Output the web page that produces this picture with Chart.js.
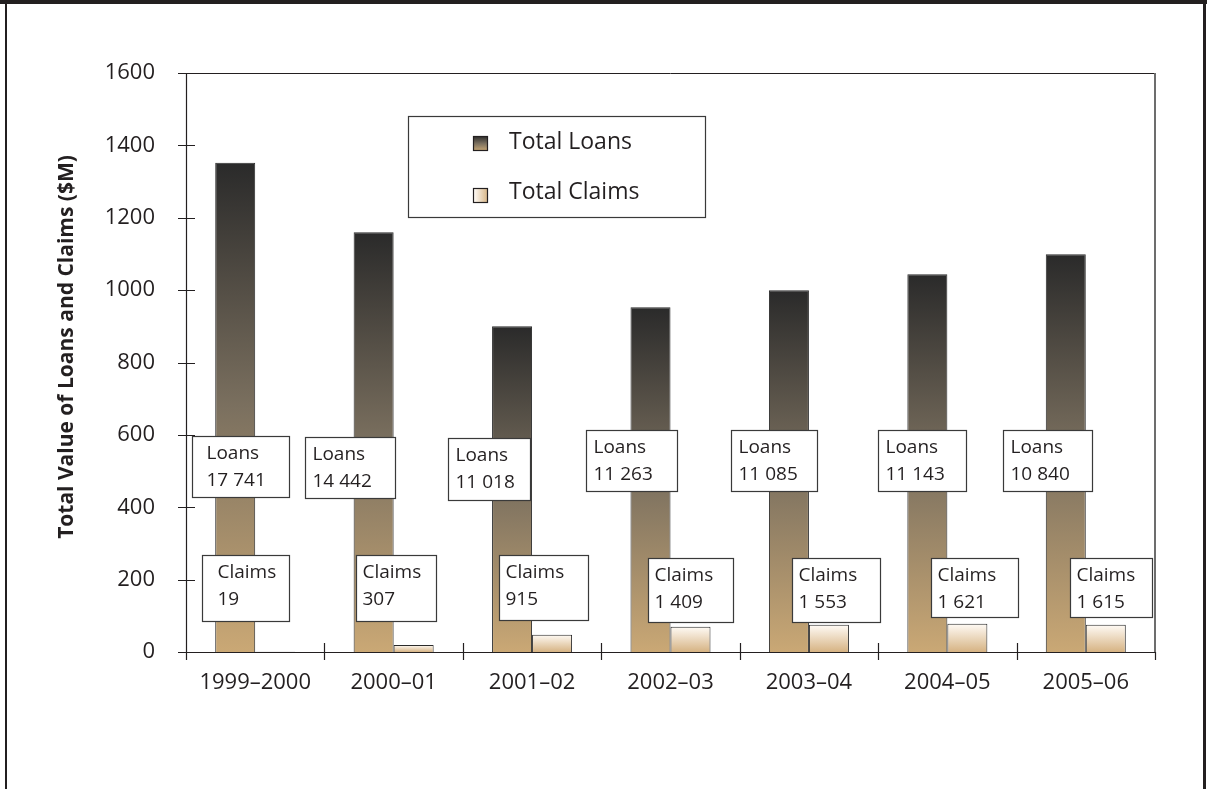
<!DOCTYPE html>
<html>
<head>
<meta charset="utf-8">
<title>Total Value of Loans and Claims</title>
<script src="https://cdn.jsdelivr.net/npm/chart.js@4.4.1/dist/chart.umd.min.js"></script>
<style>
  html, body { margin: 0; padding: 0; background: #fff; }
  #wrap { width: 1207px; height: 789px; position: relative; }
</style>
</head>
<body>
<div id="wrap"><canvas id="loansChart" width="1207" height="789"></canvas></div>
<script>
// Financial years
var categories = ["1999\u20132000", "2000\u201301", "2001\u201302", "2002\u201303", "2003\u201304", "2004\u201305", "2005\u201306"];

// Total value in $M
var totalLoans = [1352, 1160, 900, 953, 1000, 1044, 1099];
var totalClaims = [0.4, 19, 48, 70, 75, 78, 75];

// Number of loans and claims, shown in the call-out boxes
var loanCounts = ["17 741", "14 442", "11 018", "11 263", "11 085", "11 143", "10 840"];
var claimCounts = ["19", "307", "915", "1 409", "1 553", "1 621", "1 615"];

var yTicks = [0, 200, 400, 600, 800, 1000, 1200, 1400, 1600];

// call-out box placement: offset from category centre, top, width, height, text indent
var loanBoxes = [
    [-63.5, 436, 97, 61, 14], [-89, 437, 90, 61, 7], [-84.5, 438, 82, 62, 7],
    [-84.5, 430, 91, 61, 7], [-78, 430, 86, 61, 7], [-69.5, 430, 88, 61, 7], [-83, 430, 89, 61, 7]
];
var claimBoxes = [
    [-53.5, 555, 87, 66, 15], [-38, 555, 80, 66, 6], [-33.5, 555, 89, 65, 6],
    [-22.5, 558, 85, 64, 6], [-17, 558, 88, 64, 6], [-16.5, 558, 87, 59, 6], [-16, 558, 82, 59, 6]
];

var ink = "#231f20";
var fontFamily = "'Open Sans', 'Noto Sans', sans-serif";

function loansFill(g) {
    g.addColorStop(0, "#2a2a2a");
    g.addColorStop(0.5, "#7b705f");
    g.addColorStop(1, "#caa875");
    return g;
}
function claimsFill(g) {
    g.addColorStop(0, "#fffbf6");
    g.addColorStop(1, "#d6b383");
    return g;
}

// vertical gradient fitted to each bar
function barGradient(painter) {
    return function(context) {
        var chart = context.chart;
        var y = chart.scales.y;
        if (!chart.chartArea || !y) return "#a08a6c";
        var v = context.dataset.data[context.dataIndex];
        var top = y.getPixelForValue(v);
        var bottom = y.getPixelForValue(0);
        if (bottom - top < 1) top = bottom - 1;
        return painter(chart.ctx.createLinearGradient(0, top, 0, bottom));
    };
}

// frame, axes, legend and call-outs
var decorations = {
    id: "decorations",
    beforeDraw: function(chart) {
        var c = chart.ctx;
        c.save();
        c.fillStyle = "#fff";
        c.fillRect(0, 0, chart.width, chart.height);
        c.fillStyle = ink;
        c.fillRect(0, 0, chart.width, 4);
        c.fillRect(5, 0, 2, chart.height);
        c.fillRect(1203, 0, 3, chart.height);

        // y axis title
        c.translate(67, 347);
        c.rotate(-Math.PI / 2);
        c.font = "bold 21px " + fontFamily;
        c.fillStyle = ink;
        c.textAlign = "center";
        c.textBaseline = "middle";
        c.fillText("Total Value of Loans and Claims ($M)", 0, 0);
        c.restore();
    },
    afterDatasetsDraw: function(chart) {
        var c = chart.ctx;
        var a = chart.chartArea;
        var xs = chart.scales.x;
        var ys = chart.scales.y;
        c.save();

        // plot frame: top and right edges
        c.strokeStyle = ink;
        c.lineWidth = 1;
        c.beginPath();
        c.moveTo(a.left, a.top + 0.5);
        c.lineTo(a.right, a.top + 0.5);
        c.stroke();
        c.strokeStyle = "#6d6d6d";
        c.lineWidth = 2;
        c.beginPath();
        c.moveTo(a.right, a.top);
        c.lineTo(a.right, a.bottom);
        c.stroke();

        // axes with crossing ticks
        c.strokeStyle = ink;
        c.lineWidth = 1.2;
        c.beginPath();
        c.moveTo(a.left + 0.5, a.top);
        c.lineTo(a.left + 0.5, a.bottom + 8);
        c.moveTo(a.left - 8, a.bottom + 0.5);
        c.lineTo(a.right, a.bottom + 0.5);
        yTicks.forEach(function(t) {
            var py = Math.round(ys.getPixelForValue(t)) + 0.5;
            c.moveTo(a.left - 8, py);
            c.lineTo(t === 1600 ? a.left : a.left + 9, py);
        });
        for (var i = 1; i <= categories.length; i++) {
            var px = Math.round(a.left + (a.right - a.left) * i / categories.length) + 0.5;
            c.moveTo(px, i === categories.length ? a.bottom : a.bottom - 9);
            c.lineTo(px, a.bottom + 8);
        }
        c.stroke();

        // call-out boxes
        c.font = "19px " + fontFamily;
        c.textAlign = "left";
        c.textBaseline = "alphabetic";
        function box(cx, spec, title, value) {
            var x = Math.round(cx + spec[0]) + 0.5, y = spec[1] + 0.5;
            c.fillStyle = "#fff";
            c.fillRect(x, y, spec[2], spec[3]);
            c.strokeStyle = "#3a3a3a";
            c.lineWidth = 1.2;
            c.strokeRect(x, y, spec[2], spec[3]);
            c.fillStyle = ink;
            c.fillText(title, x + spec[4], y + 22);
            c.fillText(value, x + spec[4], y + 49);
        }
        categories.forEach(function(cat, i) {
            var cx = xs.getPixelForValue(i);
            box(cx, loanBoxes[i], "Loans", loanCounts[i]);
            box(cx, claimBoxes[i], "Claims", claimCounts[i]);
        });

        // legend
        c.fillStyle = "#fff";
        c.fillRect(408.5, 116.5, 297, 101);
        c.strokeStyle = "#3a3a3a";
        c.lineWidth = 1.2;
        c.strokeRect(408.5, 116.5, 297, 101);
        c.fillStyle = loansFill(c.createLinearGradient(0, 136, 0, 151));
        c.fillRect(473.5, 136.5, 14, 14);
        c.strokeStyle = ink;
        c.strokeRect(473.5, 136.5, 14, 14);
        c.fillStyle = claimsFill(c.createLinearGradient(474, 0, 488, 0));
        c.fillRect(473.5, 188.5, 14, 14);
        c.strokeRect(473.5, 188.5, 14, 14);
        c.fillStyle = ink;
        c.font = "23px " + fontFamily;
        c.textBaseline = "middle";
        c.fillText(chart.data.datasets[0].label, 509, 142);
        c.fillText(chart.data.datasets[1].label, 509, 192);
        c.restore();
    }
};

var chart = new Chart(document.getElementById("loansChart"), {
    type: "bar",
    data: {
        labels: categories,
        datasets: [
            {
                label: "Total Loans",
                data: totalLoans,
                backgroundColor: barGradient(loansFill),
                borderColor: "#2b2b2b",
                borderWidth: 1,
                borderSkipped: "bottom"
            },
            {
                label: "Total Claims",
                data: totalClaims,
                backgroundColor: barGradient(claimsFill),
                borderColor: "#2b2b2b",
                borderWidth: 1,
                borderSkipped: "bottom"
            }
        ]
    },
    options: {
        responsive: false,
        animation: false,
        layout: { padding: { top: 73, right: 52, left: 0, bottom: 0 } },
        datasets: { bar: { categoryPercentage: 0.578, barPercentage: 1 } },
        plugins: {
            legend: { display: false },
            tooltip: { enabled: false }
        },
        scales: {
            x: {
                grid: { display: false },
                border: { display: false },
                ticks: {
                    color: ink,
                    padding: 10,
                    maxRotation: 0,
                    font: { family: fontFamily, size: 22 }
                },
                afterFit: function(scale) { scale.height = 137; }
            },
            y: {
                min: 0,
                max: 1600,
                grid: { display: false, drawTicks: false },
                border: { display: false },
                ticks: {
                    stepSize: 200,
                    color: ink,
                    padding: 31,
                    font: { family: fontFamily, size: 22 },
                    callback: function(value) { return String(value); }
                },
                afterFit: function(scale) { scale.width = 186; }
            }
        }
    },
    plugins: [decorations]
});
</script>
</body>
</html>
